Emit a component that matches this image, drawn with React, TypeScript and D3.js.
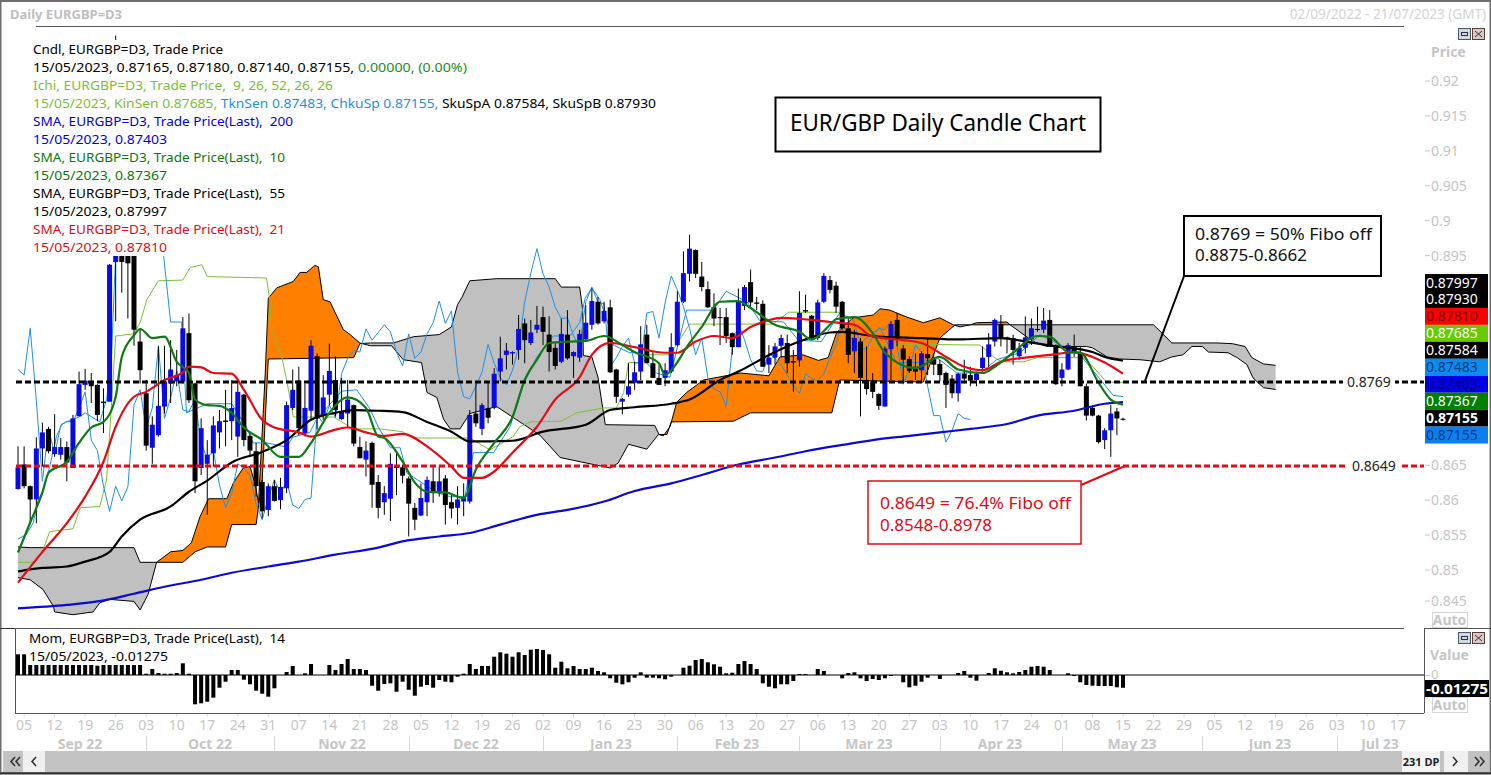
import React from "react";
import * as d3 from "d3";

const opens = [
.8616,.8651,.8620,.8601,.8674,.8702,.8666,.8665,.8676,.8646,
.8720,.8765,.8770,.8765,.8741,.8741,.8941,.9050,.9040,.8990,
.8827,.8753,.8675,.8693,.8734,.8767,.8770,.8770,.8839,.8767,
.8646,.8652,.8667,.8697,.8714,.8713,.8691,.8751,.8692,.8670,
.8626,.8586,.8620,.8600,.8617,.8732,.8771,.8696,.8728,.8806,
.8721,.8751,.8772,.8716,.8724,.8736,.8676,.8658,.8682,.8626,
.8597,.8602,.8648,.8647,.8631,.8589,.8578,.8597,.8627,.8610,
.8631,.8597,.8589,.8598,.8598,.8724,.8702,.8732,.8732,.8784,
.8808,.8810,.8815,.8853,.8825,.8844,.8862,.8837,.8818,.8798,
.8837,.8806,.8804,.8830,.8851,.8884,.8856,.8876,.8787,.8741,
.8751,.8768,.8784,.8837,.8796,.8775,.8775,.8784,.8822,.8884,
.8924,.8958,.8920,.8902,.8876,.8862,.8862,.8839,.8819,.8878,
.8912,.8883,.8881,.8794,.8804,.8821,.8825,.8799,.8800,.8872,
.8864,.8832,.8884,.8915,.8907,.8884,.8846,.8813,.8827,.8771,
.8770,.8752,.8734,.8816,.8858,.8817,.8802,.8791,.8786,.8809,
.8803,.8795,.8782,.8774,.8753,.8781,.8779,.8772,.8789,.8805,
.8827,.8852,.8833,.8832,.8806,.8818,.8830,.8845,.8844,.8858,
.8822,.8775,.8787,.8820,.8810,.8763,.8732,.8721,.8686,.8700,
.8727,.87165];
const highs = [
.8677,.8677,.8621,.8690,.8711,.8705,.8723,.8689,.8684,.8722,
.8784,.8788,.8782,.8766,.8760,.8938,.9265,.9150,.9100,.9020,
.8844,.8772,.8720,.8820,.8821,.8829,.8815,.8862,.8867,.8768,
.8717,.8686,.8720,.8729,.8758,.8772,.8772,.8752,.8696,.8682,
.8629,.8624,.8629,.8632,.8741,.8787,.8791,.8767,.8829,.8810,
.8779,.8824,.8806,.8775,.8772,.8737,.8691,.8684,.8684,.8636,
.8620,.8667,.8667,.8651,.8634,.8596,.8624,.8634,.8648,.8648,
.8636,.8610,.8620,.8624,.8729,.8770,.8739,.8770,.8789,.8834,
.8825,.8813,.8865,.8860,.8858,.8878,.8877,.8863,.8825,.8860,
.8872,.8813,.8844,.8879,.8903,.8891,.8884,.8887,.8788,.8746,
.8796,.8798,.8849,.8851,.8813,.8794,.8796,.8839,.8899,.8956,
.8980,.8959,.8941,.8913,.8896,.8875,.8875,.8840,.8903,.8908,
.8930,.8891,.8886,.8822,.8825,.8837,.8837,.8815,.8899,.8894,
.8865,.8887,.8925,.8921,.8913,.8885,.8860,.8844,.8832,.8820,
.8782,.8753,.8820,.8856,.8868,.8822,.8806,.8810,.8813,.8832,
.8810,.8801,.8784,.8779,.8782,.8801,.8791,.8784,.8820,.8839,
.8860,.8865,.8834,.8837,.8825,.8863,.8860,.8877,.8875,.8872,
.8823,.8796,.8825,.8837,.8820,.8767,.8736,.8722,.8703,.8736,
.8732,.87180];
const lows = [
.8615,.8617,.8567,.8567,.8648,.8667,.8662,.8658,.8627,.8646,
.8720,.8758,.8739,.8713,.8696,.8741,.8856,.8897,.8860,.8821,
.8767,.8671,.8652,.8691,.8724,.8739,.8763,.8767,.8739,.8610,
.8636,.8579,.8648,.8674,.8677,.8686,.8662,.8677,.8662,.8605,
.8574,.8577,.8598,.8587,.8610,.8729,.8693,.8691,.8715,.8701,
.8715,.8736,.8720,.8715,.8703,.8677,.8660,.8634,.8589,.8574,
.8579,.8570,.8607,.8624,.8548,.8557,.8577,.8577,.8596,.8605,
.8565,.8574,.8565,.8577,.8595,.8705,.8693,.8710,.8730,.8770,
.8787,.8794,.8801,.8796,.8822,.8839,.8822,.8784,.8787,.8796,
.8801,.8775,.8798,.8829,.8844,.8851,.8853,.8782,.8739,.8723,
.8748,.8758,.8772,.8796,.8775,.8765,.8763,.8782,.8820,.8882,
.8913,.8918,.8899,.8875,.8849,.8822,.8825,.8808,.8819,.8872,
.8877,.8872,.8791,.8782,.8794,.8805,.8782,.8755,.8791,.8868,
.8829,.8829,.8882,.8896,.8868,.8844,.8796,.8782,.8720,.8751,
.8746,.8729,.8734,.8772,.8820,.8770,.8782,.8772,.8770,.8779,
.8779,.8770,.8732,.8746,.8741,.8767,.8763,.8763,.8784,.8791,
.8820,.8820,.8810,.8794,.8801,.8810,.8822,.8841,.8839,.8820,
.8765,.8763,.8786,.8805,.8763,.8714,.8720,.8681,.8673,.8662,
.8693,.87140];
const closes = [
.8647,.8620,.8601,.8674,.8697,.8670,.8676,.8676,.8654,.8717,
.8766,.8771,.8763,.8722,.8739,.8937,.9040,.8941,.8939,.8844,
.8786,.8678,.8708,.8735,.8770,.8787,.8779,.8846,.8743,.8627,
.8703,.8665,.8707,.8713,.8712,.8732,.8755,.8686,.8671,.8620,
.8584,.8620,.8599,.8619,.8736,.8758,.8703,.8732,.8821,.8717,
.8747,.8785,.8729,.8727,.8744,.8681,.8660,.8671,.8622,.8589,
.8610,.8652,.8646,.8635,.8595,.8572,.8603,.8629,.8610,.8627,
.8593,.8588,.8601,.8603,.8722,.8710,.8736,.8718,.8781,.8803,
.8814,.8812,.8845,.8829,.8840,.8851,.8841,.8812,.8792,.8838,
.8803,.8812,.8838,.8854,.8885,.8853,.8871,.8783,.8748,.8745,
.8763,.8783,.8823,.8796,.8775,.8765,.8786,.8819,.8884,.8925,
.8960,.8924,.8905,.8876,.8860,.8861,.8835,.8819,.8884,.8905,
.8883,.8881,.8791,.8804,.8820,.8832,.8796,.8797,.8868,.8870,
.8832,.8883,.8921,.8901,.8877,.8846,.8808,.8832,.8775,.8759,
.8755,.8735,.8817,.8852,.8830,.8801,.8785,.8784,.8810,.8803,
.8794,.8779,.8765,.8753,.8781,.8774,.8771,.8781,.8804,.8823,
.8858,.8832,.8832,.8815,.8818,.8833,.8846,.8844,.8857,.8822,
.8766,.8787,.8822,.8811,.8763,.8721,.8721,.8683,.8700,.8724,
.8717,.87155];

const sma200Bars = [0,8,13,19,24,30,35,41,46,52,59,63,69,74,79,85,90,96,101,107,112,118,124,129,135,140,146,151,156,162,167,173,178,181];
const sma200Vals = [.8445,.8450,.8455,.8466,.8476,.8486,.8496,.8505,.8512,.8522,.8532,.8541,.8548,.8553,.8565,.8579,.8586,.8598,.8613,.8624,.8636,.8651,.8661,.8670,.8679,.8686,.8692,.8697,.8702,.8709,.8721,.8728,.8738,.87403];

const sma55Bars = [0,2,4,8,11,15,17,20,25,28,31,35,40,44,48,52,55,59,63,67,71,74,81,86,93,97,101,107,110,115,118,124,128,133,135,140,148,154,161,165,170,176,178,181];
const sma55Vals = [.8498,.8501,.8503,.8505,.8512,.8526,.8548,.8572,.8591,.8612,.8628,.8654,.8669,.8686,.8715,.8725,.8729,.8728,.8726,.8712,.8698,.8684,.8685,.8698,.8708,.8729,.8733,.8738,.8744,.8772,.8784,.8812,.8827,.8840,.8841,.8835,.8832,.8830,.8832,.8827,.8820,.8812,.8805,.87997];

const sma21Bars = [0,4,8,11,14,16,19,21,24,27,28,30,32,35,37,40,42,46,48,52,54,57,60,63,67,71,73,76,78,81,85,88,92,94,97,101,106,108,111,114,117,120,122,125,133,137,140,144,148,152,155,158,161,166,170,173,176,178,181];
const sma21Vals = [.8482,.8526,.8567,.8605,.8655,.8705,.8748,.8755,.8772,.8783,.8791,.8790,.8782,.8781,.8758,.8715,.8704,.8697,.8691,.8701,.8704,.8697,.8692,.8695,.8677,.8648,.8632,.8632,.8641,.8668,.8705,.8744,.8776,.8808,.8825,.8819,.8811,.8811,.8827,.8835,.8832,.8848,.8855,.8861,.8855,.8851,.8834,.8830,.8825,.8805,.8791,.8786,.8798,.8805,.8809,.8812,.8805,.8797,.87810];

const sma10Bars = [0,2,4,5,8,10,12,14,16,17,19,20,22,24,26,28,29,31,33,35,37,40,43,46,48,51,54,57,59,60,63,65,67,70,73,75,78,81,83,85,87,90,93,96,99,101,105,106,107,110,112,115,118,120,124,128,130,133,134,137,140,142,147,151,154,158,160,163,167,169,172,174,177,179,181];
const sma10Vals = [.8525,.8568,.8611,.8639,.8655,.8682,.8704,.8712,.8748,.8805,.8836,.8845,.8832,.8834,.8798,.8782,.8744,.8736,.8735,.8725,.8704,.8686,.8662,.8662,.8682,.8725,.8747,.8732,.8691,.8689,.8655,.8625,.8612,.8611,.8603,.8644,.8682,.8719,.8772,.8801,.8825,.8827,.8828,.8835,.8822,.8812,.8796,.8779,.8786,.8825,.8848,.8884,.8885,.8875,.8851,.8841,.8830,.8851,.8859,.8862,.8839,.8811,.8789,.8805,.8787,.8782,.8791,.8811,.8835,.8834,.8812,.8811,.8768,.8744,.87367];

const kinsenBars = [0,2.8,4.1,5.2,9,10.2,13.4,14.5,15.3,16,18.9,20,21.1,23,27,28.2,30.1,31,40.7,41.2,41.6,43.2,44,45.1,51.7,54.9,59.3,63,64.8,74,77.3,81.1,82.2,83.9,89,91.5,95.9,98,99.2,100,101.9,103,106.8,108.4,110,119.9,123.7,126.2,134.6,135.2,138,157.6,159.8,161.1,164.7,166.9,174.5,176.1,178.3,181];
const kinsenVals = [.8511,.8511,.8529,.8555,.8559,.8589,.8591,.8629,.8734,.8835,.8838,.8854,.8887,.8914,.8915,.8933,.8937,.8920,.8918,.8889,.8840,.8805,.8772,.8719,.8719,.8702,.8702,.8698,.8689,.8689,.8672,.8691,.8705,.8712,.8713,.8725,.8732,.8732,.8754,.8797,.8797,.8808,.8808,.8830,.8852,.8852,.8852,.8869,.8869,.8844,.8824,.8822,.8805,.8798,.8798,.8804,.8804,.8791,.8769,.87685];

const tenkanBars = [0,1.4,2.5,3.3,4,5.2,6.3,7.2,8.8,10,11,13.4,14.5,15.2,16,23.8,25,26.8,27.6,31,35,37.4,38.5,40.7,44,45,47.8,48.9,53,55.5,57.7,59,61,62.6,63.7,68.6,70.8,73.2,74.6,77.9,80.6,82.8,85,87.7,90.4,92,92.9,94,95.3,97,97.5,100.2,101.3,104.6,106.8,109.5,113.9,116,119.4,121.5,125.4,127.8,131.6,134.6,136.8,138,141.2,143.9,147.7,150.5,153.8,157.6,160.3,164.1,167.4,174,175,179.4,181];
const tenkanVals = [.8544,.8551,.8568,.8600,.8612,.8648,.8691,.8709,.8715,.8719,.8725,.8712,.8744,.8782,.8954,.8954,.8855,.8855,.8725,.8738,.8738,.8705,.8682,.8682,.8676,.8690,.8697,.8716,.8756,.8758,.8730,.8705,.8675,.8675,.8639,.8611,.8605,.8605,.8668,.8668,.8705,.8766,.8805,.8835,.8835,.8854,.8889,.8904,.8887,.8844,.8822,.8811,.8811,.8782,.8776,.8872,.8872,.8899,.8884,.8857,.8855,.8829,.8827,.8868,.8858,.8825,.8847,.8797,.8797,.8804,.8782,.8782,.8801,.8811,.8837,.8808,.8797,.8750,.87483];

// the lagging span is the close plotted 25 bars back
const chikouSpan = closes.slice(25);

const senkouABars = [0,2,4.1,5.8,6,9,12.3,13.4,15,19,20,21.3,22.7,25,27,28.4,29.8,31.2,34.2,35.3,36.9,38,38.8,39.4,40.5,41,42.4,45.1,46.2,47.3,48.6,49.2,50,51.1,53.3,54.4,56,57.7,61.2,63.1,66.1,67,68.6,69.7,70.8,72.4,74,78.4,82.2,85.5,88.8,97,98.3,100,103,104.9,105.7,106.8,107.9,109.5,112.3,118.3,123,124.8,128.6,131.1,132.7,134.1,136.8,140.1,141.2,142.8,145.6,148.3,151,153.2,154.3,156,157,162,162.5,166.3,168.5,175,176,178.4,180.5,183.8,187,189,190.8,192.3,194,195,198.2,199.7,201.3,202.3,204,206];
const senkouAVals = [.8489,.8486,.8472,.8448,.8440,.8436,.8440,.8453,.8458,.8455,.8443,.8465,.8511,.8526,.8528,.8539,.8576,.8602,.8602,.8625,.8646,.8648,.8625,.8596,.8782,.8889,.8904,.8913,.8926,.8926,.8936,.8934,.8887,.8884,.8844,.8837,.8825,.8821,.8821,.8801,.8797,.8754,.8747,.8716,.8702,.8702,.8724,.8734,.8712,.8693,.8661,.8646,.8653,.8680,.8673,.8694,.8692,.8705,.8740,.8754,.8772,.8782,.8778,.8805,.8808,.8800,.8804,.8840,.8861,.8865,.8874,.8872,.8862,.8854,.8861,.8851,.8848,.8851,.8854,.8855,.8851,.8827,.8820,.8820,.8818,.8805,.8802,.8801,.8798,.8805,.8808,.8820,.8820,.8812,.8811,.8804,.8794,.8775,.8761,.87584];
const senkouBBars = [0,2,19,20,27,29,31,34,35,39,40,41,55,56,57.7,61.5,64.8,69,71,72,72.7,74,78.4,88,89,92,92.5,92.6,94,95,96.2,104.3,105,106.3,107,117.2,120,133.3,134.6,148.3,151,153.5,156,162.5,186,189,196.4,198.9,201,202.1,204,206];
const senkouBVals = [.8533,.8532,.8532,.8511,.8511,.8526,.8533,.8533,.8565,.8565,.8629,.8802,.8804,.8824,.8825,.8825,.8834,.8837,.8848,.8880,.8890,.8914,.8917,.8917,.8905,.8905,.8872,.8807,.8805,.8776,.8708,.8707,.8694,.8694,.8712,.8713,.8725,.8725,.8772,.8769,.8832,.8851,.8851,.8851,.8851,.8825,.8825,.8824,.8820,.8804,.8795,.87930];

const momentum = [
.0207,.0207,.0100,.0100,.0100,.0100,.0100,.0100,.0100,.0100,
.0100,.0100,.0100,.0093,.0100,.0100,.0100,.0100,.0100,.0100,
.0100,.0013,.0060,.0020,.0013,.0013,.0020,.0117,.0013,-.0293,
-.0283,-.0267,-.0227,-.0127,-.0067,.0050,.0050,-.0047,-.0093,-.0157,
-.0187,-.0217,-.0133,0,.0030,.0090,0,.0017,.0110,0,
0,.0100,.0050,.0110,.0160,.0060,.0060,.0050,-.0107,-.0157,
-.0090,-.0083,-.0167,-.0067,-.0147,-.0207,-.0117,-.0100,-.0127,-.0050,
-.0067,-.0073,-.0017,.0013,.0110,.0060,.0090,.0090,.0183,.0227,
.0213,.0183,.0227,.0200,.0253,.0260,.0250,.0207,.0073,.0133,
.0067,.0090,.0060,.0060,.0073,.0040,.0027,-.0033,-.0077,-.0093,
-.0073,-.0027,.0027,-.0027,-.0027,-.0033,-.0043,-.0017,0,.0073,
.0093,.0150,.0160,.0127,.0107,.0083,.0017,.0023,.0110,.0140,
.0110,.0060,-.0083,-.0117,-.0133,-.0093,-.0093,-.0060,.0010,.0010,
0,.0060,.0040,0,0,-.0033,.0020,.0027,-.0033,-.0060,
-.0040,-.0050,-.0033,-.0010,0,-.0073,-.0123,-.0107,-.0067,-.0027,
0,-.0040,0,0,.0020,.0040,-.0027,-.0057,0,.0020,
.0067,.0043,.0027,.0017,.0030,.0050,.0083,.0090,.0083,.0050,
0,0,.0017,-.0010,-.0073,-.0100,-.0107,-.0110,-.0110,-.0110,
-.0123,-.01275];

const priceTicks = [0.92,0.915,0.91,0.905,0.9,0.895,0.865,0.86,0.855,0.85,0.845];
const dayLabels = ["05","12","19","26","03","10","17","24","31","07","14","21","28","05","12","19","26","02","09","16","23","30","06","13","20","27","06","13","20","27","03","10","17","24","01","08","15","22","29","05","12","19","26","03","10","17"];
const monthLabels = ["Sep 22","Oct 22","Nov 22","Dec 22","Jan 23","Feb 23","Mar 23","Apr 23","May 23","Jun 23","Jul 23"];
const monthLabelX = [80,210,342,476,611,737,869,1000,1132,1270,1380];
const monthSepX = [146,274,409,543,677,799,940,1062,1202,1337];

const tagValues = ["0.87997","0.87930","0.87810","0.87685","0.87584","0.87483","0.87403","0.87367","0.87155","0.87155"];
const tagFills = ["#000","#000","#ff0000","#66cc00","#000","#0a8cf0","#0000e6","#008000","#000","#0a7ff0"];
const tagInks = ["#fff","#fff","#7a0000","#fff","#fff","#003a80","#00007a","#fff","#fff","#003a80"];

const LIME = "#7cc034", SKY = "#1e90e8", SBLUE = "#0000e0", SGREEN = "#0a7a0a", SRED = "#e60a14";

const legendRows: { w: number; parts: [string, string][] }[] = [
  { w: 190, parts: [["Cndl, EURGBP=D3, Trade Price", "#000"]] },
  { w: 434, parts: [["15/05/2023, 0.87165, 0.87180, 0.87140, 0.87155, ", "#000"], ["0.00000, (0.00%)", "#1f8a1f"]] },
  { w: 300, parts: [["Ichi, EURGBP=D3, Trade Price,  9, 26, 52, 26, 26", LIME]] },
  { w: 623, parts: [["15/05/2023, KinSen 0.87685, ", LIME], ["TknSen 0.87483, ChkuSp 0.87155, ", SKY], ["SkuSpA 0.87584, SkuSpB 0.87930", "#000"]] },
  { w: 260, parts: [["SMA, EURGBP=D3, Trade Price(Last),  200", SBLUE]] },
  { w: 134, parts: [["15/05/2023, 0.87403", SBLUE]] },
  { w: 252, parts: [["SMA, EURGBP=D3, Trade Price(Last),  10", SGREEN]] },
  { w: 134, parts: [["15/05/2023, 0.87367", SGREEN]] },
  { w: 252, parts: [["SMA, EURGBP=D3, Trade Price(Last),  55", "#000"]] },
  { w: 134, parts: [["15/05/2023, 0.87997", "#000"]] },
  { w: 252, parts: [["SMA, EURGBP=D3, Trade Price(Last),  21", SRED]] },
  { w: 134, parts: [["15/05/2023, 0.87810", SRED]] },
];

const FONT = "'Noto Sans', sans-serif";
const AXIS_GREY = "#c6c6c6";

const x = d3.scaleLinear().domain([0, 181]).range([18, 1123]);
const y = d3.scaleLinear().domain([0.92, 0.85]).range([81, 570]);
const yMom = d3.scaleLinear().domain([0, -0.01275]).range([675, 687.75]);

const smooth = d3.line<[number, number]>().x(d => x(d[0])).y(d => y(d[1])).curve(d3.curveMonotoneX);
const straight = d3.line<[number, number]>().x(d => x(d[0])).y(d => y(d[1]));
const zipPts = (b: number[], v: number[]) => b.map((k, i) => [k, v[i]] as [number, number]);

const aAt = d3.scaleLinear().domain(senkouABars).range(senkouAVals);
const bAt = d3.scaleLinear().domain(senkouBBars).range(senkouBVals);
const cloudIdx = d3.range(0, 206.01, 0.1);
const grayCloud = d3.area<number>().x(i => x(i)).y0(i => y(aAt(i))).y1(i => y(Math.max(aAt(i), bAt(i))))(cloudIdx) as string;
const orangeCloud = d3.area<number>().x(i => x(i)).y0(i => y(bAt(i))).y1(i => y(Math.max(aAt(i), bAt(i))))(cloudIdx) as string;

function WinButtons({ left, top }: { left: number; top: number }) {
  return (
    <g>
      <rect x={left + 0.5} y={top + 0.5} width={12} height={11} fill="#d0d8e0" stroke="#4a5568" />
      <rect x={left + 3.5} y={top + 4.5} width={6} height={3} fill="none" stroke="#333" />
      <rect x={left + 14.5} y={top + 0.5} width={12} height={11} fill="#d8c8c8" stroke="#5a3a3a" />
      <path d={`M${left + 17} ${top + 3}L${left + 24} ${top + 9}M${left + 24} ${top + 3}L${left + 17} ${top + 9}`} stroke="#333" />
    </g>
  );
}

export default function App() {
  const txt = { fontFamily: FONT } as const;
  const chevron = { fill: "none", stroke: "#333", strokeWidth: 1.6 } as const;
  return (
    <svg width={1491} height={775} viewBox="0 0 1491 775" style={{ position: "absolute", left: 0, top: 0, background: "#fff" }}>
      {/* window frame */}
      <rect x={0.5} y={1} width={1490} height={772} fill="#fff" stroke="#6e6e6e" strokeWidth={2} />
      <text x={10} y={19} fontSize={13} fontWeight={700} fill="#c0c0c0" {...txt}>Daily EURGBP=D3</text>
      <text x={1486} y={19} fontSize={13.5} fill="#d4d4d4" textAnchor="end" {...txt}>02/09/2022 - 21/07/2023 (GMT)</text>
      <line x1={36} x2={1404} y1={26.5} y2={26.5} stroke="#555" />

      {/* ichimoku cloud */}
      <path d={grayCloud} fill="#c0c0c0" />
      <path d={orangeCloud} fill="#ff8000" />
      <path d={straight(zipPts(senkouABars, senkouAVals)) as string} fill="none" stroke="#000" strokeWidth={1} />
      <path d={straight(zipPts(senkouBBars, senkouBVals)) as string} fill="none" stroke="#000" strokeWidth={1} />

      {/* thin ichimoku lines */}
      <path d={straight(zipPts(kinsenBars, kinsenVals)) as string} fill="none" stroke={LIME} strokeWidth={1} />
      <path d={straight(zipPts(tenkanBars, tenkanVals)) as string} fill="none" stroke={SKY} strokeWidth={1} />
      <path d={straight(chikouSpan.map((v, i) => [i, v] as [number, number])) as string} fill="none" stroke={SKY} strokeWidth={1} />

      {/* candles */}
      {closes.map((c, i) => {
        const o = opens[i];
        const up = c > o;
        const col = up ? "#0a0ae6" : "#000";
        const top = y(Math.max(o, c));
        const h = Math.max(1, y(Math.min(o, c)) - top);
        return (
          <g key={i}>
            <line x1={x(i)} x2={x(i)} y1={y(highs[i])} y2={y(lows[i])} stroke="#000" strokeWidth={1} />
            <rect x={x(i) - 2.5} y={top} width={5} height={h} fill={col} />
          </g>
        );
      })}

      {/* moving averages */}
      <path d={smooth(zipPts(sma200Bars, sma200Vals)) as string} fill="none" stroke="#0a0ad2" strokeWidth={2.2} />
      <path d={smooth(zipPts(sma55Bars, sma55Vals)) as string} fill="none" stroke="#000" strokeWidth={2.2} />
      <path d={smooth(zipPts(sma21Bars, sma21Vals)) as string} fill="none" stroke="#e60a14" strokeWidth={2.2} />
      <path d={smooth(zipPts(sma10Bars, sma10Vals)) as string} fill="none" stroke="#0f7a14" strokeWidth={2.2} />

      {/* fibo levels */}
      <line x1={16} x2={1424} y1={y(0.8769)} y2={y(0.8769)} stroke="#000" strokeWidth={3} strokeDasharray="6 3" />
      <line x1={16} x2={1424} y1={y(0.8649)} y2={y(0.8649)} stroke="#e60a14" strokeWidth={3} strokeDasharray="6 3" />
      <rect x={1343} y={y(0.8769) - 9} width={52} height={18} fill="#fff" />
      <text x={1347} y={y(0.8769) + 5} fontSize={14} fill="#222" {...txt}>0.8769</text>
      <rect x={1348} y={y(0.8649) - 9} width={52} height={18} fill="#fff" />
      <text x={1352} y={y(0.8649) + 5} fontSize={14} fill="#222" {...txt}>0.8649</text>

      {/* legend rows */}
      {legendRows.map((r, k) => (
        <g key={k}>
          <rect x={31} y={40 + 18 * k} width={r.w + 4} height={18} fill="#fff" />
          <text x={33} y={53.5 + 18 * k} fontSize={13} textLength={r.w} lengthAdjust="spacingAndGlyphs" style={{ whiteSpace: "pre" }} {...txt}>
            {r.parts.map((p, j) => <tspan key={j} fill={p[1]}>{p[0]}</tspan>)}
          </text>
        </g>
      ))}

      {/* annotations */}
      <rect x={775.5} y={97.5} width={325} height={54} fill="#fff" stroke="#000" strokeWidth={2} />
      <text x={938} y={131} fontSize={24} textAnchor="middle" fill="#000" textLength={296} lengthAdjust="spacingAndGlyphs" {...txt}>EUR/GBP Daily Candle Chart</text>

      <line x1={1184} x2={1145} y1={276} y2={381} stroke="#000" strokeWidth={2} />
      <rect x={1184} y={216} width={197} height={60} fill="#fff" stroke="#000" strokeWidth={2} />
      <text x={1195} y={240} fontSize={16.5} fill="#111" textLength={177} lengthAdjust="spacingAndGlyphs" {...txt}>0.8769 = 50% Fibo off</text>
      <text x={1195} y={261} fontSize={16.5} fill="#111" textLength={112} lengthAdjust="spacingAndGlyphs" {...txt}>0.8875-0.8662</text>

      <line x1={1081} x2={1125} y1={485} y2={466} stroke="#e60a14" strokeWidth={2} />
      <rect x={868} y={481} width={213} height={63} fill="#fff" stroke="#e60a14" strokeWidth={1.5} />
      <text x={880} y={509} fontSize={16.5} fill="#e60a14" textLength={191} lengthAdjust="spacingAndGlyphs" {...txt}>0.8649 = 76.4% Fibo off</text>
      <text x={880} y={531} fontSize={16.5} fill="#e60a14" textLength={112} lengthAdjust="spacingAndGlyphs" {...txt}>0.8548-0.8978</text>

      {/* price axis */}
      <text x={1431} y={57} fontSize={14} fontWeight={700} fill={AXIS_GREY} {...txt}>Price</text>
      <WinButtons left={1458} top={28} />
      {priceTicks.map(v => {
        const py = Math.min(y(v), 601);
        return (
          <g key={v}>
            <line x1={1425} x2={1430} y1={py} y2={py} stroke={AXIS_GREY} />
            <text x={1431} y={py + 5} fontSize={14} fill={AXIS_GREY} {...txt}>{String(v)}</text>
          </g>
        );
      })}
      <rect x={1432.5} y={612.5} width={35} height={15} fill="#fff" stroke="#d4d4d4" />
      <text x={1449.5} y={625} fontSize={14} fontWeight={700} textAnchor="middle" fill={AXIS_GREY} {...txt}>Auto</text>

      {/* price tags */}
      {tagValues.map((t, k) => (
        <g key={k}>
          <rect x={1425} y={274 + 16.95 * k} width={63} height={17} fill={tagFills[k]} />
          <text x={1426} y={287.5 + 16.95 * k} fontSize={14} fontWeight={k === 8 ? 700 : 400} fill={tagInks[k]} {...txt}>{t}</text>
        </g>
      ))}

      {/* momentum panel */}
      <line x1={0} x2={15} y1={628.5} y2={628.5} stroke="#333" />
      <line x1={15} x2={1404} y1={628.5} y2={628.5} stroke="#555" />
      <line x1={1424} x2={1491} y1={628.5} y2={628.5} stroke="#555" />
      <line x1={15.5} x2={15.5} y1={628} y2={713} stroke="#555" />
      <line x1={15} x2={1424} y1={713.5} y2={713.5} stroke="#555" />
      <line x1={1424.5} x2={1424.5} y1={628} y2={713} stroke="#555" />
      {momentum.map((m, i) => {
        if (m === 0) return null;
        const a = yMom(m), b = yMom(0);
        return <rect key={i} x={x(i) - 2} width={4} y={Math.min(a, b)} height={Math.abs(a - b)} fill="#000" />;
      })}
      <line x1={15} x2={1424} y1={yMom(0)} y2={yMom(0)} stroke="#000" />
      <text x={29} y={643} fontSize={13} fill="#000" textLength={256} lengthAdjust="spacingAndGlyphs" style={{ whiteSpace: "pre" }} {...txt}>Mom, EURGBP=D3, Trade Price(Last),  14</text>
      <text x={29} y={661} fontSize={13} fill="#000" textLength={139} lengthAdjust="spacingAndGlyphs" {...txt}>15/05/2023, -0.01275</text>

      <WinButtons left={1458} top={632} />
      <text x={1430} y={660} fontSize={14} fontWeight={700} fill={AXIS_GREY} {...txt}>Value</text>
      <line x1={1425} x2={1430} y1={675.5} y2={675.5} stroke={AXIS_GREY} />
      <text x={1431} y={679} fontSize={13} fill={AXIS_GREY} {...txt}>0</text>
      <rect x={1425} y={680} width={64} height={17} fill="#000" />
      <text x={1426} y={693.5} fontSize={14} fontWeight={700} fill="#fff" textLength={62} lengthAdjust="spacingAndGlyphs" {...txt}>-0.01275</text>
      <rect x={1432.5} y={697.5} width={35} height={15} fill="#fff" stroke="#d4d4d4" />
      <text x={1449.5} y={710} fontSize={14} fontWeight={700} textAnchor="middle" fill={AXIS_GREY} {...txt}>Auto</text>

      {/* time axis */}
      {dayLabels.map((d, k) => {
        const tx = x(1 + 5 * k);
        return (
          <g key={k}>
            <line x1={tx} x2={tx} y1={714} y2={717} stroke="#ddd" />
            <text x={tx} y={730} fontSize={14} textAnchor="middle" fill={AXIS_GREY} {...txt}>{d}</text>
          </g>
        );
      })}
      {monthSepX.map(m => <line key={m} x1={m + 0.5} x2={m + 0.5} y1={736} y2={751} stroke="#d8d8d8" />)}
      {monthLabels.map((m, k) => (
        <text key={m} x={monthLabelX[k]} y={749} fontSize={14} fontWeight={700} textAnchor="middle" fill={AXIS_GREY} {...txt}>{m}</text>
      ))}

      {/* scrollbar */}
      <rect x={3} y={751} width={1486} height={21} fill="#c3c3c3" />
      <rect x={23} y={751} width={22} height={21} fill="#f0f0f0" />
      <path d="M15 757l-4 4.5l4 4.5M20 757l-4 4.5l4 4.5" {...chevron} />
      <path d="M36 757l-4 4.5l4 4.5" {...chevron} />
      <rect x={1402} y={751} width={38} height={21} fill="#f4f4f4" />
      <text x={1421} y={766} fontSize={11} fontWeight={700} textAnchor="middle" fill="#222" {...txt}>231 DP</text>
      <rect x={1444} y={751} width={24} height={21} fill="#f0f0f0" />
      <path d="M1453 757l4 4.5l-4 4.5" {...chevron} />
      <path d="M1475 757l4 4.5l-4 4.5M1480 757l4 4.5l-4 4.5" {...chevron} />
      <line x1={0} x2={1491} y1={773.5} y2={773.5} stroke="#333" strokeWidth={2} />
    </svg>
  );
}
